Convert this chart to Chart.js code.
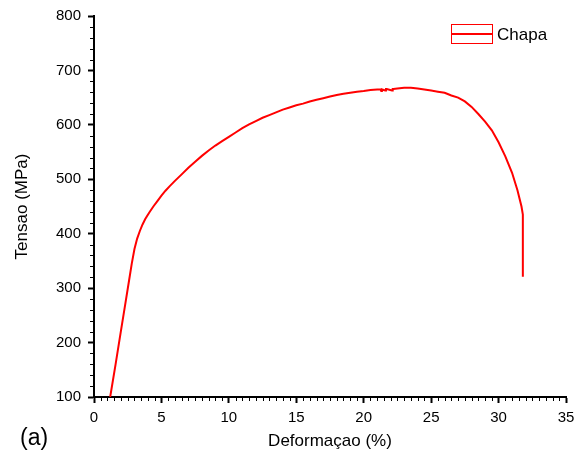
<!DOCTYPE html>
<html>
<head>
<meta charset="utf-8">
<script src="https://cdn.jsdelivr.net/npm/chart.js@4/dist/chart.umd.min.js"></script>
<style>
  body { margin: 0; background: #fff; }
  #wrap { width: 576px; height: 464px; }
</style>
</head>
<body>
<div id="wrap"><canvas id="grafico" width="576" height="464"></canvas></div>
<script>
// deformacao (%) e tensao (MPa)
const deformacao = [1.2, 1.6, 2.0, 2.3, 2.6, 2.8, 3.0, 3.2, 3.4, 3.6, 3.8, 4.1, 4.4, 4.7, 5.0, 5.3, 5.6,
  6.0, 6.5, 7.0, 7.5, 8.0, 8.5, 9.0, 9.5, 10.0, 10.5, 11.0, 11.5, 12.0, 12.5, 13.0, 13.5, 14.0,
  14.5, 15.0, 15.5, 16.0, 16.5, 17.0, 17.5, 18.0, 18.5, 19.0, 19.5, 20.0, 20.5, 21.0, 21.25,
  21.3, 21.35, 21.6, 21.65, 21.7, 22.1, 22.15, 22.2, 22.5, 23.0, 23.5, 24.0, 24.5, 25.0, 25.5,
  26.0, 26.5, 27.0, 27.5, 28.0, 28.5, 29.0, 29.5, 30.0, 30.5, 31.0, 31.4, 31.7, 31.8, 31.8];
const tensao = [100, 160, 222, 268, 314, 345, 372, 391, 405, 417, 427, 439, 450, 460, 470, 479, 487,
  497, 509, 521, 532, 543, 553, 562, 570, 578, 586, 594, 601, 607, 613, 618, 623, 628,
  632, 636, 639, 643, 646, 649, 652, 655, 657, 659, 661, 662, 664, 665, 665,
  662, 665, 663, 666, 666, 663, 666, 666, 667, 668, 668, 667, 665, 663, 661,
  659, 654, 650, 643, 633, 620, 606, 590, 568, 542, 512, 480, 450, 435, 321];

const xTicks = [0, 5, 10, 15, 20, 25, 30, 35];
const yTicks = [100, 200, 300, 400, 500, 600, 700, 800];
const serieNome = "Chapa";

const fonte = "Arial, 'Liberation Sans', sans-serif";

const pontos = deformacao.map((x, i) => ({ x: x, y: tensao[i] }));

const extras = {
  id: "extras",
  afterDraw(chart) {
    const ctx = chart.ctx;
    const xs = chart.scales.x, ys = chart.scales.y;
    const area = chart.chartArea;
    ctx.save();
    ctx.strokeStyle = "#000";
    ctx.lineWidth = 1;
    // ticks menores
    for (let v = xs.min; v <= xs.max + 1e-9; v += 0.5) {
      if (Math.abs(v % 5) < 1e-9) continue;
      const px = Math.round(xs.getPixelForValue(v)) + 0.5;
      ctx.beginPath();
      ctx.moveTo(px, area.bottom);
      ctx.lineTo(px, area.bottom + 4);
      ctx.stroke();
    }
    for (let v = ys.min; v <= ys.max + 1e-9; v += 20) {
      if (Math.abs(v % 100) < 1e-9) continue;
      const py = Math.round(ys.getPixelForValue(v)) + 0.5;
      ctx.beginPath();
      ctx.moveTo(area.left, py);
      ctx.lineTo(area.left - 4, py);
      ctx.stroke();
    }
    // legenda
    ctx.strokeStyle = "red";
    ctx.strokeRect(451.5, 24.5, 41, 19);
    ctx.lineWidth = 2;
    ctx.beginPath();
    ctx.moveTo(451, 34);
    ctx.lineTo(493, 34);
    ctx.stroke();
    ctx.fillStyle = "#000";
    ctx.font = "17px " + fonte;
    ctx.textBaseline = "middle";
    ctx.fillText(serieNome, 497, 35);
    // rotulo (a)
    ctx.font = "23px " + fonte;
    ctx.textBaseline = "alphabetic";
    ctx.fillText("(a)", 20, 445);
    ctx.restore();
  }
};

new Chart(document.getElementById("grafico"), {
  type: "scatter",
  data: {
    datasets: [{
      label: serieNome,
      data: pontos,
      showLine: true,
      borderColor: "red",
      borderWidth: 2,
      pointRadius: 0,
      tension: 0
    }]
  },
  options: {
    responsive: false,
    animation: false,
    layout: { padding: { left: 0, right: 10, top: 16, bottom: 0 } },
    plugins: { legend: { display: false }, tooltip: { enabled: false } },
    scales: {
      x: {
        type: "linear",
        min: 0, max: 35,
        afterFit(scale) { scale.height = 67; scale.paddingRight = 0; scale.paddingLeft = 0; },
        afterBuildTicks(scale) { scale.ticks = xTicks.map(v => ({ value: v })); },
        ticks: { color: "#000", font: { family: fonte, size: 15 }, padding: 6, maxRotation: 0 },
        grid: { drawOnChartArea: false, tickLength: 6, tickColor: "#000", tickWidth: 2 },
        border: { display: true, color: "#000", width: 2 },
        title: { display: true, text: "Deformaçao (%)", color: "#000", font: { family: fonte, size: 17 }, padding: { bottom: 12 } }
      },
      y: {
        min: 100, max: 800,
        afterFit(scale) { scale.width = 94; scale.paddingTop = 0; scale.paddingBottom = 0; },
        afterBuildTicks(scale) { scale.ticks = yTicks.map(v => ({ value: v })); },
        ticks: { color: "#000", font: { family: fonte, size: 15 }, padding: 7 },
        grid: { drawOnChartArea: false, tickLength: 6, tickColor: "#000", tickWidth: 2 },
        border: { display: true, color: "#000", width: 2 },
        title: { display: true, text: "Tensao (MPa)", color: "#000", font: { family: fonte, size: 17 }, padding: { top: 12 } }
      }
    }
  },
  plugins: [extras]
});
</script>
</body>
</html>
